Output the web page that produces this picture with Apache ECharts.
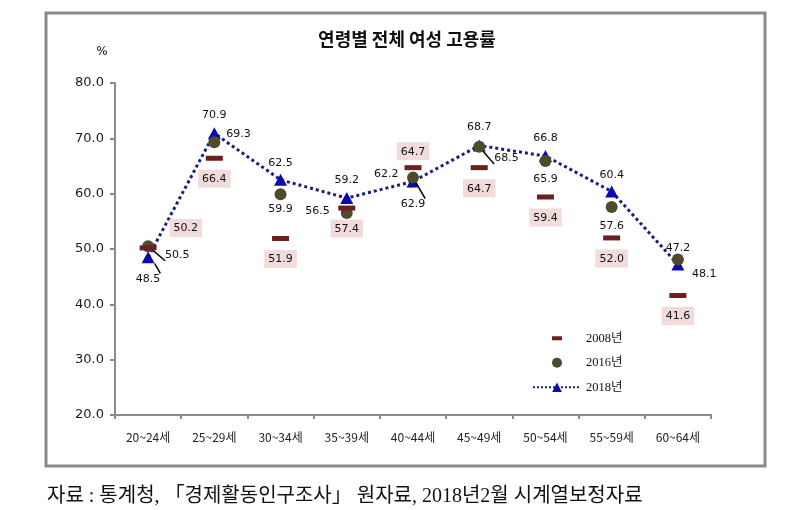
<!DOCTYPE html>
<html>
<head>
<meta charset="utf-8">
<script src="https://cdn.jsdelivr.net/npm/echarts@6/dist/echarts.min.js"></script>
<style>
html,body{margin:0;padding:0;background:#fff;}
#chart{width:808px;height:510px;}
</style>
</head>
<body>
<div id="chart"></div>
<script>
// ---- data ----
const categories = ['20~24세','25~29세','30~34세','35~39세','40~44세','45~49세','50~54세','55~59세','60~64세'];
const y2008 = [50.2, 66.4, 51.9, 57.4, 64.7, 64.7, 59.4, 52.0, 41.6];
const y2016 = [50.5, 69.3, 59.9, 56.5, 62.9, 68.5, 65.9, 57.6, 48.1];
const y2018 = [48.5, 70.9, 62.5, 59.2, 62.2, 68.7, 66.8, 60.4, 47.2];
const seriesNames = ['2008년', '2016년', '2018년'];
const yTicks = [20, 30, 40, 50, 60, 70, 80];
const titleText = '연령별 전체 여성 고용률';
const unitText = '%';
const sourceText = '자료 : 통계청, 「경제활동인구조사」 원자료, 2018년2월 시계열보정자료';

// ---- label layout (style only) ----
const lab2008 = [
  {position:'right', distance:5, offset:[8,-20]},
  {position:'bottom', distance:9}, {position:'bottom', distance:9}, {position:'bottom', distance:9},
  {position:'top', distance:5},
  {position:'bottom', distance:9}, {position:'bottom', distance:9}, {position:'bottom', distance:9}, {position:'bottom', distance:9}
];
const lab2016 = [
  {position:'right', distance:11, offset:[0,9], line:true},
  {position:'right', distance:6, offset:[0,-8]},
  {position:'bottom', distance:3},
  {position:'left', distance:11, offset:[0,-2], line:true},
  {position:'bottom', distance:15, line:true},
  {position:'right', distance:9, offset:[0,12], line:true},
  {position:'bottom', distance:7},
  {position:'bottom', distance:8},
  {position:'right', distance:8, offset:[0,15]}
];
const lab2018 = [
  {position:'bottom', distance:10, line:true},
  {position:'top', distance:7}, {position:'top', distance:5}, {position:'top', distance:6},
  {position:'left', distance:8, offset:[0,-7], line:true},
  {position:'top', distance:7}, {position:'top', distance:6}, {position:'top', distance:5}, {position:'top', distance:5}
];

const numFont = 'DejaVu Sans';
const lineStyleLeader = {show:true, smooth:false, lineStyle:{color:'#000', width:1.5}};
const fmt1 = (p) => Number(p.value).toFixed(1);

function buildData(vals, labs, extra) {
  return vals.map((v, i) => {
    const l = labs[i];
    const item = {value: v, label: Object.assign({show:true, position:l.position, distance:l.distance, offset:l.offset || [0,0], formatter:fmt1}, extra || {})};
    if (l.line) item.labelLine = lineStyleLeader;
    return item;
  });
}

const chart = echarts.init(document.getElementById('chart'), null, {renderer:'canvas'});
const option = {
  animation: false,
  backgroundColor: '#fff',
  grid: {left:115, right:97, top:83, bottom:95},
  graphic: [
    {type:'rect', shape:{x:46, y:13, width:719, height:453}, style:{fill:'none', stroke:'#8a8a8a', lineWidth:3}, z:-1},
    {type:'text', style:{text:titleText, x:407, y:39, align:'center', verticalAlign:'middle', font:'bold 18px "Noto Sans CJK KR"', fill:'#111'}},
    {type:'text', style:{text:unitText, x:102, y:52, align:'center', verticalAlign:'middle', font:'12px "DejaVu Sans"', fill:'#111'}},
    {type:'text', style:{text:sourceText, x:47, y:497, align:'left', verticalAlign:'middle', font:'20px "Liberation Serif", "Noto Sans CJK KR"', fill:'#111'}}
  ],
  legend: {
    orient:'vertical', left:527, top:327, itemWidth:48, itemHeight:12, itemGap:12,
    textStyle:{fontFamily:'"Liberation Serif", "Noto Sans CJK KR"', fontSize:12.5, color:'#111'},
    data: [
      {name:seriesNames[0], icon:'path://M0,0L0,0M48,12L48,12M19,4H29V8H19Z'},
      {name:seriesNames[1], icon:'path://M0,0L0,0M48,12L48,12M24,1A5,5,0,1,1,23.99,1Z'},
      {name:seriesNames[2]}
    ]
  },
  xAxis: {
    type:'category', data:categories, boundaryGap:true,
    axisLine:{lineStyle:{color:'#8a8a8a', width:2}},
    axisTick:{show:true, length:4, lineStyle:{color:'#8a8a8a', width:2}},
    axisLabel:{fontFamily:'"Noto Sans CJK KR"', fontSize:12, color:'#222', margin:16}
  },
  yAxis: {
    type:'value', min:yTicks[0], max:yTicks[yTicks.length-1], interval:10,
    splitLine:{show:false},
    axisLine:{show:true, lineStyle:{color:'#8a8a8a', width:2}},
    axisTick:{show:true, length:5, lineStyle:{color:'#8a8a8a', width:2}},
    axisLabel:{fontFamily:numFont, fontSize:13, color:'#1a1a2a', margin:11, formatter:(v)=>v.toFixed(1)}
  },
  series: [
    {
      name:seriesNames[2], type:'line', z:2,
      data: buildData(y2018, lab2018, {color:'#111', fontFamily:numFont, fontSize:11}),
      symbol:'triangle', symbolSize:[13,12],
      lineStyle:{color:'#1c1c80', width:3, type:'dotted'},
      itemStyle:{color:'#0a0ab0'},
      labelLine:{show:false}
    },
    {
      name:seriesNames[1], type:'scatter', z:3,
      data: buildData(y2016, lab2016, {color:'#111', fontFamily:numFont, fontSize:11}),
      symbol:'circle', symbolSize:12,
      itemStyle:{color:'#4d4a2e', opacity:1},
      labelLine:{show:false}
    },
    {
      name:seriesNames[0], type:'scatter', z:4,
      data: buildData(y2008, lab2008, {color:'#111', fontFamily:numFont, fontSize:11, backgroundColor:'#f2dcdb', padding:[4,4,3,4]}),
      symbol:'rect', symbolSize:[17,5],
      itemStyle:{color:'#6b2020', opacity:1}
    }
  ]
};
chart.setOption(option);
</script>
</body>
</html>
